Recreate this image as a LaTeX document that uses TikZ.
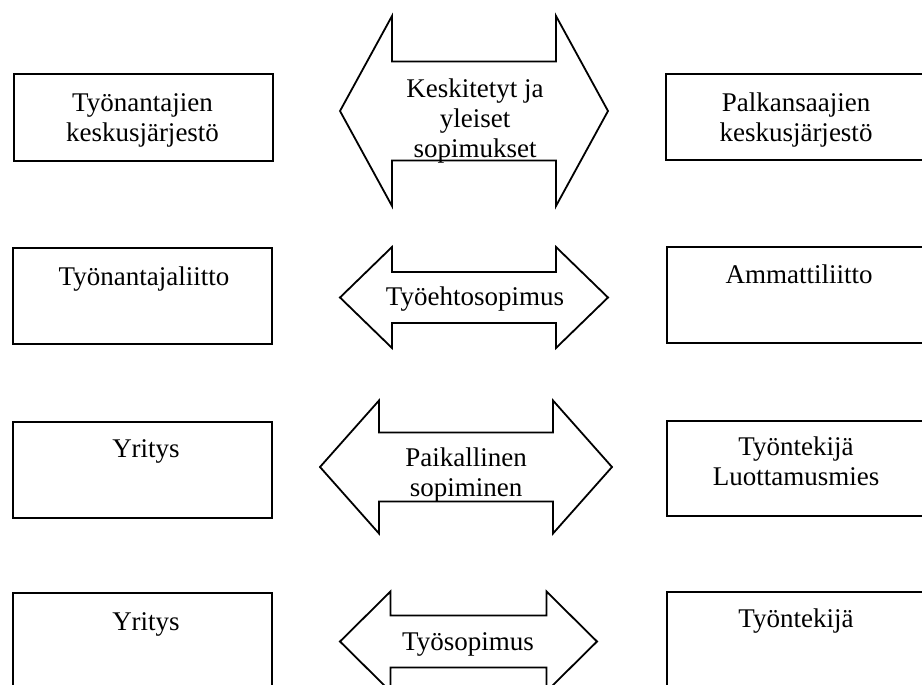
\documentclass[tikz,border=0pt]{standalone}
\usepackage{fontspec}
\setmainfont{Liberation Serif}
% double-headed block arrow: centre x, centre y, half length, head length,
% shaft half height, head half height
\newcommand\twoway[6]{%
  \draw[deal] (#1-#3,#2) -- (#1-#3+#4,#2-#6) -- (#1-#3+#4,#2-#5)
    -- (#1+#3-#4,#2-#5) -- (#1+#3-#4,#2-#6) -- (#1+#3,#2)
    -- (#1+#3-#4,#2+#6) -- (#1+#3-#4,#2+#5) -- (#1-#3+#4,#2+#5)
    -- (#1-#3+#4,#2+#6) -- cycle;}
\begin{document}
\begin{tikzpicture}[x=1pt,y=-1pt,
  party/.style={draw=black, line width=1.9pt, inner sep=0pt,
    minimum width=259pt, anchor=north west},
  lbl/.style={font=\fontsize{27}{30}\selectfont, align=center, inner sep=0pt},
  deal/.style={draw=black, line width=1.8pt, line join=miter}]
\useasboundingbox (0,0) rectangle (922,685);

% employer side
\node[party, minimum height=87pt] (emp1) at (13,73) {};
\node[party, minimum height=96pt] (emp2) at (12,247) {};
\node[party, minimum height=96pt] (emp3) at (12,421) {};
\node[party, minimum height=110pt] (emp4) at (12,592) {};
% employee side
\node[party, minimum width=262pt, minimum height=86pt] (wrk1) at (665,73) {};
\node[party, minimum width=262pt, minimum height=96pt] (wrk2) at (666,246) {};
\node[party, minimum width=262pt, minimum height=95pt] (wrk3) at (666,420) {};
\node[party, minimum width=262pt, minimum height=110pt] (wrk4) at (666,591) {};

% texts of the parties
\node[lbl] (emp1t) at (142.5,120) {Työnantajien\\keskusjärjestö};
\node[lbl, anchor=base] (emp2t) at (144,285) {Työnantajaliitto};
\node[lbl, anchor=base] (emp3t) at (146,457) {Yritys};
\node[lbl, anchor=base] (emp4t) at (146,630) {Yritys};
\node[lbl] (wrk1t) at (796,120) {Palkansaajien\\keskusjärjestö};
\node[lbl, anchor=base] (wrk2t) at (799,283) {Ammattiliitto};
\node[lbl] (wrk3t) at (796,461) {Työntekijä\\Luottamusmies};
\node[lbl, anchor=base] (wrk4t) at (796,627) {Työntekijä};

% agreement levels
\twoway{474}{111}{134}{52}{49.5}{95}
\twoway{474}{297.5}{134}{52}{25.5}{50.5}
\twoway{466}{467}{146}{59}{34.5}{66.5}
\twoway{468.5}{641.5}{128.5}{50.5}{26}{50}

\node[lbl] (deal1) at (475,121.5) {Keskitetyt ja\\yleiset\\sopimukset};
\node[lbl, anchor=base] (deal2) at (475,305) {Työehtosopimus};
\node[lbl] (deal3) at (466,475) {Paikallinen\\sopiminen};
\node[lbl, anchor=base] (deal4) at (468,650) {Työsopimus};
\end{tikzpicture}
\end{document}
